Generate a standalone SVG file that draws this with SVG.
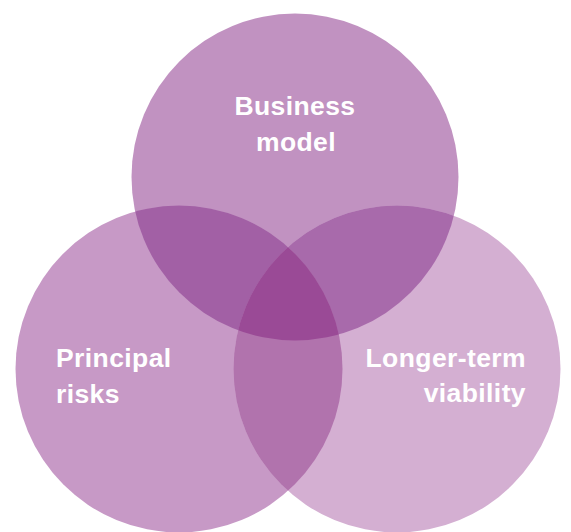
<svg xmlns="http://www.w3.org/2000/svg" width="571" height="532" viewBox="0 0 571 532">
  <style>
    .label { font-family: "Liberation Sans", Arial, sans-serif; font-weight: bold; font-size: 26.5px; letter-spacing: 0.4px; fill: #ffffff; }
  </style>
  <defs>
    <clipPath id="clip-top"><circle cx="295" cy="177" r="163.5"/></clipPath>
    <clipPath id="clip-left"><circle cx="179" cy="369" r="163.5"/></clipPath>
    <clipPath id="clip-right"><circle cx="397" cy="369" r="163.5"/></clipPath>
  </defs>
  <rect width="571" height="532" fill="#ffffff"/>

  <!-- base circles -->
  <g id="node-business-model">
    <circle cx="295" cy="177" r="163.5" fill="#C192C1"/>
  </g>
  <g id="node-principal-risks">
    <circle cx="179" cy="369" r="163.5" fill="#C799C6"/>
  </g>
  <g id="node-longer-term-viability">
    <circle cx="397" cy="369" r="163.5" fill="#D4AFD2"/>
  </g>

  <!-- overlap regions -->
  <g id="overlaps">
    <g clip-path="url(#clip-top)">
      <circle cx="179" cy="369" r="163.5" fill="#A260A5"/>
      <circle cx="397" cy="369" r="163.5" fill="#A86AAB"/>
    </g>
    <g clip-path="url(#clip-left)">
      <circle cx="397" cy="369" r="163.5" fill="#B173AD"/>
    </g>
    <g clip-path="url(#clip-left)">
      <g clip-path="url(#clip-right)">
        <circle cx="295" cy="177" r="163.5" fill="#9A4A96"/>
      </g>
    </g>
  </g>

  <!-- labels -->
  <g id="labels">
    <text class="label" x="295" y="115" text-anchor="middle">Business</text>
    <text class="label" x="296" y="151" text-anchor="middle">model</text>
    <text class="label" x="56" y="367">Principal</text>
    <text class="label" x="56" y="403">risks</text>
    <text class="label" x="526" y="367" text-anchor="end">Longer-term</text>
    <text class="label" x="526" y="402" text-anchor="end">viability</text>
  </g>
</svg>
